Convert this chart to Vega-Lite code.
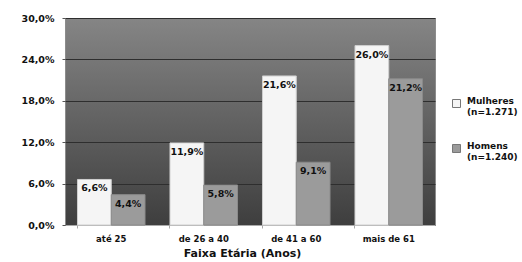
{
  "$schema": "https://vega.github.io/schema/vega-lite/v6.json",
  "autosize": {"type": "none"},
  "width": 370,
  "height": 207,
  "padding": {"left": 65, "top": 18, "right": 87, "bottom": 37},
  "background": "#ffffff",
  "config": {
    "locale": {"number": {"decimal": ",", "thousands": ".", "grouping": [3], "currency": ["R$", ""]}},
    "font": "DejaVu Sans",
    "view": {
      "fill": {"gradient": "linear", "x1": 0, "y1": 0, "x2": 0, "y2": 1, "stops": [{"offset": 0, "color": "#858585"}, {"offset": 1, "color": "#3e3e3e"}]},
      "stroke": "#8c8c8c",
      "strokeWidth": 1
    }
  },
  "data": {
    "values": [
      {"faixa": "até 25", "sexo": "Mulheres (n=1.271)", "valor": 0.066},
      {"faixa": "até 25", "sexo": "Homens (n=1.240)", "valor": 0.044},
      {"faixa": "de 26 a 40", "sexo": "Mulheres (n=1.271)", "valor": 0.119},
      {"faixa": "de 26 a 40", "sexo": "Homens (n=1.240)", "valor": 0.058},
      {"faixa": "de 41 a 60", "sexo": "Mulheres (n=1.271)", "valor": 0.216},
      {"faixa": "de 41 a 60", "sexo": "Homens (n=1.240)", "valor": 0.091},
      {"faixa": "mais de 61", "sexo": "Mulheres (n=1.271)", "valor": 0.260},
      {"faixa": "mais de 61", "sexo": "Homens (n=1.240)", "valor": 0.212}
    ]
  },
  "encoding": {
    "x": {
      "field": "faixa", "type": "nominal", "sort": null,
      "scale": {"paddingInner": 0.27, "paddingOuter": 0.135},
      "axis": {
        "title": "Faixa Etária (Anos)", "titleFont": "DejaVu Sans", "titleFontSize": 11, "titleFontWeight": "bold", "titleColor": "#111", "titlePadding": 5, "titleX": 177,
        "labelAngle": 0, "labelFontSize": 8.5, "labelFontWeight": "bold", "labelColor": "#111", "labelPadding": 6,
        "domainColor": "#aaaaaa", "tickColor": "#aaaaaa", "tickSize": 3, "bandPosition": 0
      }
    },
    "xOffset": {"field": "sexo", "type": "nominal", "sort": ["Mulheres (n=1.271)", "Homens (n=1.240)"], "scale": {"paddingInner": 0, "paddingOuter": 0}},
    "y": {
      "field": "valor", "type": "quantitative",
      "scale": {"domain": [0, 0.3], "nice": false},
      "axis": {
        "title": null, "format": ".1%", "values": [0, 0.06, 0.12, 0.18, 0.24, 0.3],
        "labelFontSize": 9.5, "labelFontWeight": "bold", "labelColor": "#111", "labelPadding": 8,
        "grid": true, "gridColor": "#2e2e2e", "gridWidth": 1,
        "domain": false, "tickColor": "#555555", "tickSize": 3
      }
    }
  },
  "layer": [
    {
      "mark": {"type": "bar", "strokeWidth": 1},
      "encoding": {
        "color": {
          "field": "sexo", "type": "nominal", "sort": ["Mulheres (n=1.271)", "Homens (n=1.240)"],
          "scale": {"range": ["#f5f5f5", "#9b9b9b"]},
          "legend": {
            "title": null, "orient": "none", "legendX": 387, "legendY": 81,
            "symbolType": "square", "symbolSize": 64, "symbolStrokeColor": "#777777", "symbolStrokeWidth": 1,
            "labelExpr": "split(datum.label, ' ')", "labelFontSize": 9, "labelFontWeight": "bold", "labelColor": "#111",
            "labelLineHeight": 13, "rowPadding": 24, "labelOffset": 6, "labelBaseline": "alphabetic", "labelLimit": 200
          }
        },
        "stroke": {"field": "sexo", "type": "nominal", "sort": ["Mulheres (n=1.271)", "Homens (n=1.240)"], "scale": {"range": ["#cfcfcf", "#8a8a8a"]}, "legend": null}
      }
    },
    {
      "mark": {"type": "text", "baseline": "top", "dy": 4, "fontSize": 9.5, "fontWeight": "bold", "color": "#111111"},
      "encoding": {"text": {"field": "valor", "type": "quantitative", "format": ".1%"}}
    }
  ]
}
